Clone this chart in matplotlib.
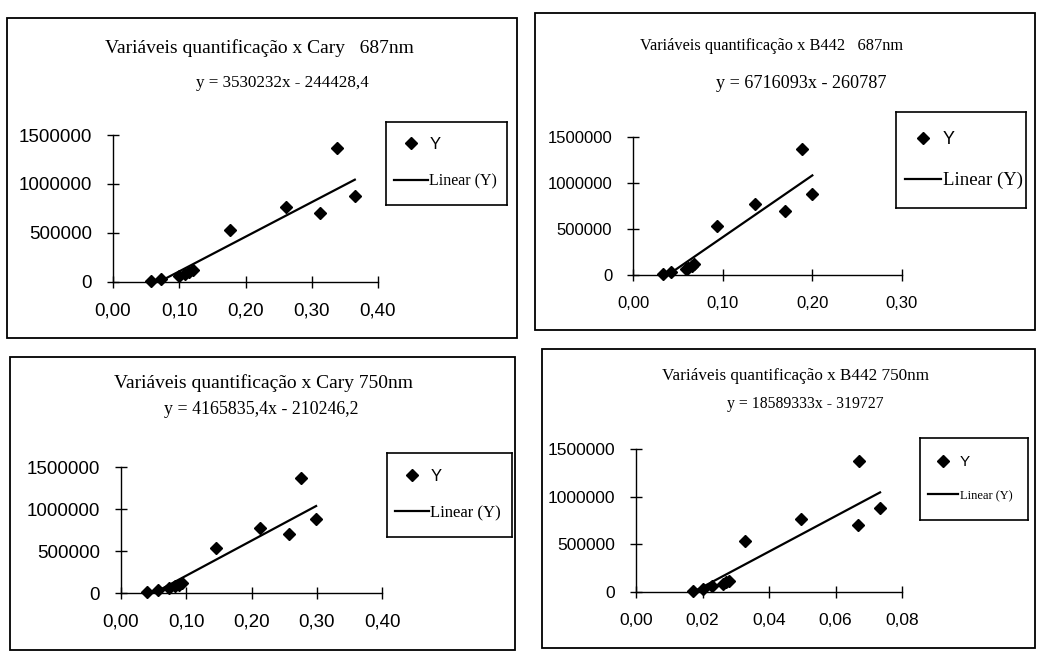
import matplotlib
matplotlib.use("Agg")
import matplotlib.pyplot as plt
from matplotlib.patches import Rectangle
import numpy as np

# ---- data ----
y_vals = [10000, 30000, 60000, 80000, 100000, 120000, 530000, 770000, 700000, 1370000, 880000]

x_cary_687 = [0.057, 0.073, 0.099, 0.108, 0.115, 0.120, 0.177, 0.261, 0.313, 0.338, 0.365]
x_b442_687 = [0.033, 0.042, 0.059, 0.061, 0.066, 0.068, 0.094, 0.136, 0.169, 0.188, 0.200]
x_cary_750 = [0.040, 0.056, 0.074, 0.082, 0.089, 0.093, 0.145, 0.213, 0.258, 0.276, 0.299]
x_b442_750 = [0.0171, 0.0201, 0.0229, 0.0261, 0.0272, 0.0279, 0.0328, 0.0497, 0.0667, 0.0672, 0.0734]

titles = ["Variáveis quantificação x Cary   687nm",
          "Variáveis quantificação x B442   687nm",
          "Variáveis quantificação x Cary 750nm",
          "Variáveis quantificação x B442 750nm"]
equations = ["y = 3530232x - 244428,4",
             "y = 6716093x - 260787",
             "y = 4165835,4x - 210246,2",
             "y = 18589333x - 319727"]
slopes = [3530232, 6716093, 4165835.4, 18589333]
intercepts = [-244428.4, -260787, -210246.2, -319727]

x_ticks = [[0.0, 0.1, 0.2, 0.3, 0.4],
           [0.0, 0.1, 0.2, 0.3],
           [0.0, 0.1, 0.2, 0.3, 0.4],
           [0.0, 0.02, 0.04, 0.06, 0.08]]
y_ticks = [0, 500000, 1000000, 1500000]

x_series = [x_cary_687, x_b442_687, x_cary_750, x_b442_750]

# ---- layout (pixels in the 1041x653 image) ----
W, H = 1041, 653
frames = [(7, 18, 517, 338), (535, 13, 1035, 330), (10, 357, 515, 650), (542, 349, 1035, 648)]
plot_areas = [(113, 135, 378, 282), (633, 137, 902, 275), (121, 467, 382, 593), (636, 449, 902, 592)]
title_pos = [(259, 48, 308), (772, 46, 262), (264, 383, 298), (795, 376, 266)]
eq_pos = [(282, 83, 173), (801, 84, 170), (261, 410, 195), (805, 404, 156)]
legend_boxes = [(386, 122, 507, 205), (896, 112, 1026, 208), (387, 453, 512, 537), (920, 438, 1028, 520)]
tick_sizes = [13.5, 12, 13.5, 12.5]
legend_sizes = [(12, 11.5), (13, 13.5), (12, 12), (11, 9)]


def px_rect(x0, y0, x1, y1):
    return [x0 / W, 1 - y1 / H, (x1 - x0) / W, (y1 - y0) / H]


plt.rcParams["font.family"] = "Liberation Sans"
fig = plt.figure(figsize=(W / 100, H / 100), dpi=100)
fig.patch.set_facecolor("white")

fitted = []
for i in range(4):
    fx0, fy0, fx1, fy1 = frames[i]
    fig.patches.append(Rectangle((fx0 / W, 1 - fy1 / H), (fx1 - fx0) / W, (fy1 - fy0) / H,
                                 transform=fig.transFigure, fill=False,
                                 edgecolor="black", linewidth=1.3))

    ax = fig.add_axes(px_rect(*plot_areas[i]))
    xs = x_series[i]
    pts, = ax.plot(xs, y_vals, "D", color="black", ms=6, clip_on=False, zorder=3)
    xl = np.array([min(xs), max(xs)])
    trend, = ax.plot(xl, slopes[i] * xl + intercepts[i], color="black", lw=1.6)

    ax.set_xlim(x_ticks[i][0], x_ticks[i][-1])
    ax.set_ylim(0, 1500000)
    ax.set_xticks(x_ticks[i])
    ax.set_xticklabels([f"{v:.2f}".replace(".", ",") for v in x_ticks[i]])
    ax.set_yticks(y_ticks)
    ax.set_yticklabels([str(v) for v in y_ticks])
    for s in ["top", "right"]:
        ax.spines[s].set_visible(False)
    for s in ["left", "bottom"]:
        ax.spines[s].set_linewidth(1)
    ax.tick_params(direction="inout", length=8, width=1, labelsize=tick_sizes[i])
    ax.tick_params(axis="y", pad=11)
    ax.tick_params(axis="x", pad=11)
    ax.patch.set_alpha(0)

    tx, ty, tw = title_pos[i]
    t = fig.text(tx / W, 1 - ty / H, titles[i], ha="center", va="center",
                 family="Liberation Serif", fontsize=12)
    fitted.append((t, tw))
    ex, ey, ew = eq_pos[i]
    e = fig.text(ex / W, 1 - ey / H, equations[i], ha="center", va="center",
                 family="Liberation Serif", fontsize=11)
    fitted.append((e, ew))

    lax = fig.add_axes(px_rect(*legend_boxes[i]))
    lax.set_xticks([])
    lax.set_yticks([])
    for s in lax.spines.values():
        s.set_linewidth(1.2)
    ys_, ls_ = legend_sizes[i]
    leg = lax.legend([pts, trend], ["Y", "Linear (Y)"], loc="center left",
                     bbox_to_anchor=(0, 0.5), borderaxespad=0, frameon=False,
                     handlelength=2.0, handletextpad=0.1, labelspacing=1.3,
                     borderpad=0.5, fontsize=ys_)
    texts = leg.get_texts()
    texts[0].set_family("Liberation Sans")
    texts[0].set_fontsize(ys_)
    texts[1].set_family("Liberation Serif")
    texts[1].set_fontsize(ls_)

# scale title/equation fonts to the widths seen in the scan
renderer = fig.canvas.get_renderer()
for t, target in fitted:
    bb = t.get_window_extent(renderer)
    t.set_fontsize(t.get_fontsize() * target / bb.width)

fig.savefig("out.png", dpi=100, facecolor="white")
